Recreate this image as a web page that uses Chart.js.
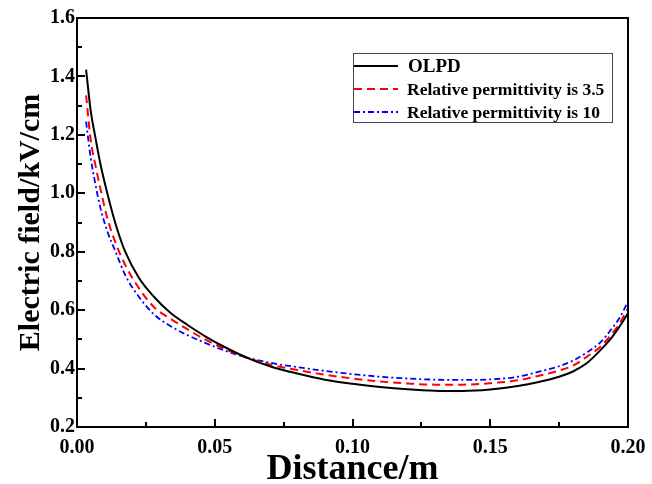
<!DOCTYPE html>
<html>
<head>
<meta charset="utf-8">
<script src="https://cdn.jsdelivr.net/npm/chart.js@4.4.1/dist/chart.umd.min.js"></script>
<style>
  html, body { margin: 0; padding: 0; background: #fff; }
  #chart { display: block; }
</style>
</head>
<body>
<canvas id="chart" width="652" height="484"></canvas>
<script>
// values
const distance = [0.0033, 0.005, 0.0065, 0.0085, 0.011, 0.014, 0.0175, 0.0225, 0.028, 0.034, 0.04, 0.047, 0.055, 0.062,
    0.07, 0.08, 0.09, 0.1, 0.11, 0.12, 0.13, 0.14, 0.15, 0.16, 0.168, 0.175, 0.18, 0.185, 0.19, 0.194, 0.197, 0.2];
const olpd = [1.423, 1.28, 1.20, 1.10, 1.00, 0.895, 0.80, 0.71, 0.645, 0.59, 0.55, 0.508, 0.467, 0.436,
    0.408, 0.383, 0.362, 0.348, 0.337, 0.329, 0.324, 0.323, 0.328, 0.34, 0.355, 0.372, 0.39, 0.418, 0.463, 0.505, 0.545, 0.589];
const perm35 = [1.335, 1.18, 1.105, 1.015, 0.915, 0.83, 0.755, 0.675, 0.61, 0.57, 0.535, 0.497, 0.462, 0.436,
    0.414, 0.395, 0.379, 0.366, 0.356, 0.349, 0.345, 0.345, 0.35, 0.36, 0.376, 0.393, 0.41, 0.44, 0.475, 0.517, 0.556, 0.606];
const perm10 = [1.245, 1.12, 1.04, 0.95, 0.87, 0.80, 0.72, 0.645, 0.585, 0.545, 0.515, 0.486, 0.457, 0.437,
    0.42, 0.405, 0.392, 0.381, 0.372, 0.366, 0.362, 0.361, 0.363, 0.372, 0.39, 0.408, 0.427, 0.455, 0.49, 0.535, 0.575, 0.629];
const seriesNames = ['OLPD', 'Relative permittivity is 3.5', 'Relative permittivity is 10'];

const FONT = '"Liberation Serif", "Times New Roman", serif';

function pts(ys) {
    return distance.map((d, i) => ({ x: d, y: ys[i] }));
}

// box round the plot, inward ticks, legend inside
const framePlugin = {
    id: 'frame',
    afterDraw(chart) {
        const ctx = chart.ctx;
        const a = chart.chartArea;
        const xs = chart.scales.x, ys = chart.scales.y;
        ctx.save();
        ctx.strokeStyle = '#000';
        ctx.lineWidth = 2;
        ctx.strokeRect(a.left, a.top, a.right - a.left, a.bottom - a.top);

        ctx.beginPath();
        for (let v = 0; v <= 0.2001; v += 0.025) {
            const px = Math.round(xs.getPixelForValue(v));
            const major = Math.abs(v / 0.05 - Math.round(v / 0.05)) < 1e-6;
            ctx.moveTo(px, a.bottom);
            ctx.lineTo(px, a.bottom - (major ? 8 : 5));
        }
        for (let v = 0.2; v <= 1.6001; v += 0.1) {
            const py = Math.round(ys.getPixelForValue(v));
            const major = Math.abs(v / 0.2 - Math.round(v / 0.2)) < 1e-6;
            ctx.moveTo(a.left, py);
            ctx.lineTo(a.left + (major ? 8 : 5), py);
        }
        ctx.stroke();

        // legend
        const lx = 353, ly = 53, lw = 259, lh = 69;
        ctx.lineWidth = 1;
        ctx.strokeStyle = '#444';
        ctx.strokeRect(lx + 0.5, ly + 0.5, lw, lh);
        ctx.textBaseline = 'middle';
        ctx.fillStyle = '#000';
        chart.data.datasets.forEach((ds, i) => {
            const y = 66 + i * 23;
            ctx.beginPath();
            ctx.strokeStyle = ds.borderColor;
            ctx.lineWidth = ds.borderWidth;
            ctx.setLineDash(ds.borderDash || []);
            ctx.moveTo(lx + 1, y);
            ctx.lineTo(lx + 45, y);
            ctx.stroke();
            ctx.setLineDash([]);
            ctx.font = (i === 0 ? 'bold 19px ' : 'bold 17.5px ') + FONT;
            ctx.fillText(ds.label, i === 0 ? lx + 55 : lx + 54, y + 1);
        });
        ctx.restore();
    }
};

new Chart(document.getElementById('chart'), {
    type: 'line',
    data: {
        datasets: [
            { label: seriesNames[0], data: pts(olpd), borderColor: '#000000', borderWidth: 2 },
            { label: seriesNames[1], data: pts(perm35), borderColor: '#ff0000', borderWidth: 2, borderDash: [8, 5] },
            { label: seriesNames[2], data: pts(perm10), borderColor: '#0000ff', borderWidth: 1.8, borderDash: [6, 3, 2, 3] }
        ]
    },
    options: {
        responsive: false,
        animation: false,
        devicePixelRatio: 1,
        layout: { padding: { left: 0, right: 24, top: 18, bottom: 0 } },
        elements: {
            point: { radius: 0 },
            line: { cubicInterpolationMode: 'monotone', fill: false }
        },
        plugins: {
            legend: { display: false },
            tooltip: { enabled: false }
        },
        scales: {
            x: {
                type: 'linear',
                min: 0,
                max: 0.2,
                afterFit(scale) {
                    scale.height = 57;
                    scale.paddingLeft = 0;
                    scale.paddingRight = 0;
                },
                grid: { display: false, drawTicks: false },
                border: { display: true, color: '#000', width: 2 },
                ticks: {
                    stepSize: 0.05,
                    padding: 9,
                    color: '#000',
                    font: { family: FONT, size: 20, weight: 'bold' },
                    callback: v => v.toFixed(2)
                },
                title: {
                    display: true,
                    text: 'Distance/m',
                    color: '#000',
                    font: { family: FONT, size: 36, weight: 'bold', lineHeight: 0.8 },
                    padding: { top: 0, bottom: 0 }
                }
            },
            y: {
                min: 0.2,
                max: 1.6,
                afterFit(scale) { scale.width = 77; },
                grid: { display: false, drawTicks: false },
                border: { display: true, color: '#000', width: 2 },
                ticks: {
                    stepSize: 0.2,
                    padding: 2,
                    color: '#000',
                    font: { family: FONT, size: 20, weight: 'bold' },
                    callback: v => v.toFixed(1)
                },
                title: {
                    display: true,
                    text: 'Electric field/kV/cm',
                    color: '#000',
                    font: { family: FONT, size: 30, weight: 'bold' },
                    padding: { top: 13, bottom: 0 }
                }
            }
        }
    },
    plugins: [framePlugin]
});
</script>
</body>
</html>
